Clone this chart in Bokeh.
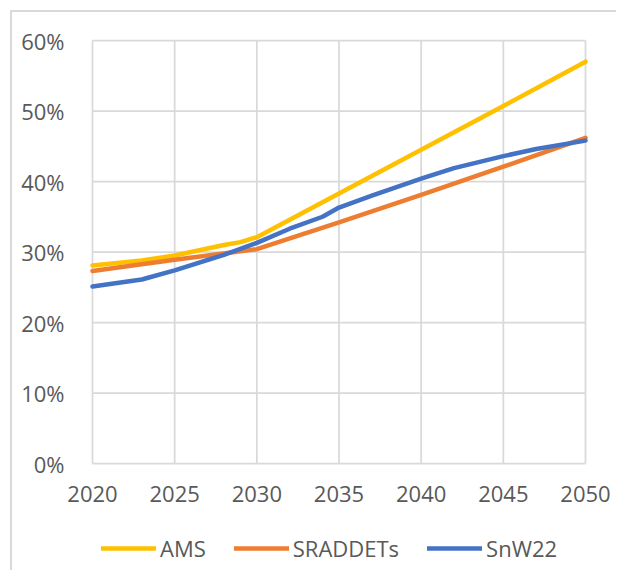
from bokeh.plotting import figure
from bokeh.models import Range1d, FixedTicker, PrintfTickFormatter, Legend, LegendItem
from bokeh.embed import file_html
from bokeh.resources import INLINE

years_ams = [2020, 2023, 2025, 2028, 2029, 2030, 2035, 2040, 2045, 2050]
ams = [28.1, 28.8, 29.5, 31.0, 31.4, 32.1, 38.3, 44.5, 50.7, 57.0]

years_sra = [2020, 2025, 2030, 2035, 2040, 2045, 2050]
sraddets = [27.3, 28.9, 30.4, 34.2, 38.1, 42.1, 46.2]

years_snw = [2020, 2023, 2025, 2028, 2030, 2032, 2034, 2035, 2037, 2040, 2042, 2045, 2047, 2050]
snw22 = [25.1, 26.1, 27.4, 29.6, 31.3, 33.3, 35.0, 36.3, 38.0, 40.4, 41.9, 43.6, 44.6, 45.8]

x_ticks = [2020, 2025, 2030, 2035, 2040, 2045, 2050]
y_ticks = [0, 10, 20, 30, 40, 50, 60]

FONT = "Open Sans"
TXT = "#595959"
GRID = "#d9d9d9"

# frame covers the whole canvas; ranges chosen so the 2020-2050 / 0-60% box sits inside
p = figure(width=606, height=560, output_backend="svg", toolbar_location=None,
           x_range=Range1d(2015.132, 2052.008), y_range=Range1d(-15.461, 63.972),
           min_border_left=0, min_border_right=0, min_border_top=0, min_border_bottom=0,
           styles={"margin-left": "10px", "margin-top": "10px",
                   "border-left": "2px solid #d9d9d9", "border-top": "2px solid #d9d9d9"})
p.outline_line_color = None
p.background_fill_color = "white"
p.border_fill_color = "white"

for ax in (p.xaxis, p.yaxis):
    ax.axis_line_color = None
    ax.major_tick_line_color = None
    ax.minor_tick_line_color = None
    ax.major_label_text_font = FONT
    ax.major_label_text_font_size = "22px"
    ax.major_label_text_color = TXT

p.xaxis.ticker = FixedTicker(ticks=x_ticks)
p.xaxis.fixed_location = y_ticks[0]
p.yaxis.ticker = FixedTicker(ticks=y_ticks)
p.yaxis.fixed_location = x_ticks[0]
p.yaxis.formatter = PrintfTickFormatter(format="%d%%")
p.xaxis.major_label_standoff = 16
p.yaxis.major_label_standoff = 22

p.xgrid.visible = False
p.ygrid.visible = False

n_x, n_y = len(x_ticks), len(y_ticks)
# vertical gridlines (0%-60%) and horizontal gridlines (2020-2050)
p.segment(x0=x_ticks, y0=[y_ticks[0]] * n_x, x1=x_ticks, y1=[y_ticks[-1]] * n_x,
          line_color=GRID, line_width=1.75)
p.segment(x0=[x_ticks[0]] * n_y, y0=y_ticks, x1=[x_ticks[-1]] * n_y, y1=y_ticks,
          line_color=GRID, line_width=1.75)

r1 = p.line(years_ams, ams, line_color="#FFC000", line_width=4.5, line_cap="round", line_join="round")
r2 = p.line(years_sra, sraddets, line_color="#ED7D31", line_width=4.5, line_cap="round", line_join="round")
r3 = p.line(years_snw, snw22, line_color="#4472C4", line_width=4.5, line_cap="round", line_join="round")

legend = Legend(items=[LegendItem(label="AMS", renderers=[r1]),
                       LegendItem(label="SRADDETs", renderers=[r2]),
                       LegendItem(label="SnW22", renderers=[r3])],
                orientation="horizontal", location=(89, 9),
                glyph_width=55, glyph_height=30, label_height=30, label_standoff=4, spacing=28,
                padding=0, margin=0, border_line_color=None, background_fill_alpha=0,
                label_text_font=FONT, label_text_font_size="22px", label_text_color=TXT)
p.add_layout(legend, "center")

open("out.html", "w").write(file_html(p, INLINE))
